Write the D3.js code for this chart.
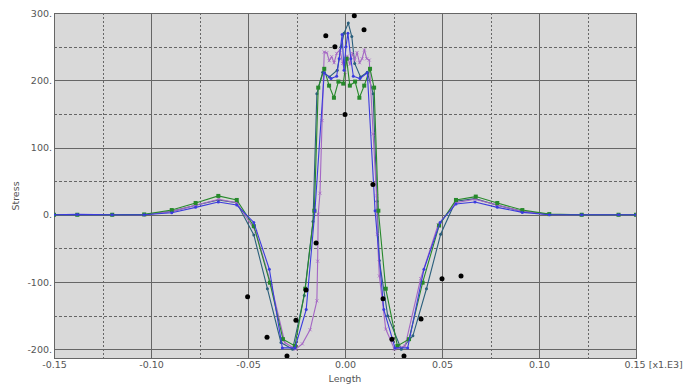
<!DOCTYPE html>
<html>
<head>
<meta charset="utf-8">
<script src="https://cdn.jsdelivr.net/npm/d3@7"></script>
<style>
  body { margin: 0; background: #fff; }
  svg text { font-family: "DejaVu Sans", Verdana, sans-serif; fill: #555; }
</style>
</head>
<body>
<div id="chart"></div>
<script>
// tick labels
const xTicks = [-0.15, -0.10, -0.05, 0, 0.05, 0.10, 0.15];
const xMinor = [-0.125, -0.075, -0.025, 0.025, 0.075, 0.125];
const yTicks = [-200, -100, 0, 100, 200, 300];
const yMinor = [-150, -50, 50, 150, 250];
const xUnit = '[x1.E3]';

// green series (square markers)
const greenX = [-0.15, -0.138, -0.12, -0.1035, -0.0893, -0.077, -0.0653, -0.0558, -0.047, -0.0387, -0.032, -0.0258, -0.0205, -0.0158, -0.0138, -0.0107, -0.0082, -0.0057, -0.0034, -0.0009, 0.0008, 0.0025, 0.0052, 0.0074, 0.0099, 0.0129, 0.015, 0.0172, 0.021, 0.027, 0.033, 0.040, 0.0485, 0.0572, 0.0674, 0.0785, 0.0914, 0.1053, 0.122, 0.141, 0.15];
const greenY = [0, 0, 0, 0.5, 7, 17.5, 28, 22, -17, -101, -185, -195, -110, 6, 189, 217, 192, 174, 198, 195, 232, 192, 198, 174, 192, 217, 189, 6, -110, -195, -185, -101, -16, 22, 27, 17.5, 7, 1, 0, 0, 0];

// blue series
const blueX = [-0.15, -0.138, -0.12, -0.1035, -0.0893, -0.077, -0.0653, -0.0558, -0.047, -0.039, -0.0323, -0.0258, -0.020, -0.0155, -0.0107, -0.0072, -0.0043, -0.003, -0.0015, -0.0005, 0.0005, 0.0015, 0.003, 0.0043, 0.0077, 0.0115, 0.0155, 0.020, 0.0258, 0.0323, 0.0407, 0.049, 0.0572, 0.067, 0.0785, 0.0914, 0.1053, 0.122, 0.141, 0.15];
const blueY = [0, 0.5, 0, 0, 3, 11, 19, 14.5, -11.5, -81, -198, -198, -141, 6, 211, 202.5, 206, 232, 268, 215, 250, 270, 232, 206, 202.5, 211, 6, -141, -198, -198, -81, -11.5, 16, 19, 11, 3.5, 0, 0, 0, 0];

// purple series
const purpleX = [-0.15, -0.138, -0.12, -0.1035, -0.089, -0.077, -0.065, -0.0558, -0.046, -0.038, -0.031, -0.0255, -0.022, -0.018, -0.0145, -0.0141, -0.0138, -0.0129, -0.0118, -0.0107, -0.0094, -0.0081, -0.0069, -0.0056, -0.0043, -0.0026, -0.0012, 0, 0.0012, 0.0025, 0.0038, 0.005, 0.0062, 0.0075, 0.0088, 0.01, 0.0112, 0.0125, 0.0145, 0.0163, 0.0167, 0.0177, 0.021, 0.0255, 0.031, 0.039, 0.048, 0.057, 0.067, 0.078, 0.091, 0.105, 0.122, 0.141, 0.15];
const purpleY = [0, 0, 0, 0, 5, 14, 23, 18, -25, -105, -190, -200, -192, -171, -128, -69, 1, 32, 140, 242, 241, 229, 235, 226, 240, 245, 225, 212, 236, 224, 240, 230, 241, 226, 232, 245, 232, 230, 120, 28, -29, -91, -170, -200, -195, -95, -15, 18, 23, 15, 5, 0.5, 0, 0, 0];

// dark teal series
const tealX = [-0.15, -0.138, -0.12, -0.1035, -0.0893, -0.077, -0.0653, -0.0558, -0.047, -0.040, -0.033, -0.027, -0.021, -0.0165, -0.0145, -0.0115, -0.008, -0.004, -0.002, -0.0005, 0.0017, 0.0035, 0.005, 0.008, 0.0115, 0.0145, 0.0165, 0.0177, 0.022, 0.029, 0.035, 0.042, 0.0493, 0.057, 0.067, 0.0785, 0.0914, 0.1053, 0.122, 0.141, 0.15];
const tealY = [0, 0, 0, 0, 5, 14, 22, 18, -30, -110, -190, -200, -120, -10, 180, 212, 205, 215, 250, 270, 285, 265, 225, 205, 212, 180, 20, -68, -150, -200, -180, -110, -29, 20, 24, 14, 5, 0.5, 0, 0, 0];

// black scatter points
const dotX = [-0.0502, -0.0402, -0.0299, -0.0253, -0.0201, -0.0149, -0.0099, -0.0052, 0, 0.0048, 0.0098, 0.0144, 0.0196, 0.0242, 0.0304, 0.0392, 0.05, 0.0598];
const dotY = [-122, -182, -210, -157, -112, -42, 266, 250, 149, 296, 275, 45, -125, -185, -210, -155, -95, -91];

const W = 695, H = 384;
const plot = { left: 54, right: 636, top: 13, bottom: 358 };

const svg = d3.select('#chart').append('svg')
  .attr('width', W)
  .attr('height', H);

const x = d3.scaleLinear().domain([-0.15, 0.15]).range([plot.left, plot.right]);
const y = d3.scaleLinear().domain([-213, 300]).range([plot.bottom, plot.top]);

// plot background
svg.append('rect')
  .attr('x', plot.left).attr('y', plot.top)
  .attr('width', plot.right - plot.left).attr('height', plot.bottom - plot.top)
  .attr('fill', '#d9d9d9');

svg.append('clipPath').attr('id', 'clip')
  .append('rect')
  .attr('x', plot.left).attr('y', plot.top)
  .attr('width', plot.right - plot.left).attr('height', plot.bottom - plot.top);

// grid
const grid = svg.append('g');
grid.selectAll('.vmin').data(xMinor).enter().append('line')
  .attr('x1', d => Math.round(x(d)) + 0.5).attr('x2', d => Math.round(x(d)) + 0.5)
  .attr('y1', plot.top).attr('y2', plot.bottom)
  .attr('stroke', '#666').attr('stroke-dasharray', '2,2');
grid.selectAll('.hmin').data(yMinor).enter().append('line')
  .attr('y1', d => Math.round(y(d)) + 0.5).attr('y2', d => Math.round(y(d)) + 0.5)
  .attr('x1', plot.left).attr('x2', plot.right)
  .attr('stroke', '#666').attr('stroke-dasharray', '3,2');
grid.selectAll('.vmaj').data(xTicks).enter().append('line')
  .attr('x1', d => Math.round(x(d)) + 0.5).attr('x2', d => Math.round(x(d)) + 0.5)
  .attr('y1', plot.top).attr('y2', plot.bottom)
  .attr('stroke', '#666');
grid.selectAll('.hmaj').data(yTicks).enter().append('line')
  .attr('y1', d => Math.round(y(d)) + 0.5).attr('y2', d => Math.round(y(d)) + 0.5)
  .attr('x1', plot.left).attr('x2', plot.right)
  .attr('stroke', '#666');

svg.append('rect')
  .attr('x', plot.left + 0.5).attr('y', plot.top + 0.5)
  .attr('width', plot.right - plot.left).attr('height', plot.bottom - plot.top)
  .attr('fill', 'none').attr('stroke', '#666');

// axes
const yAxis = svg.append('g')
  .attr('transform', `translate(${plot.left - 1},0)`)
  .call(d3.axisLeft(y).tickValues(yTicks).tickSize(0).tickPadding(1).tickFormat(d => d + '.'));
yAxis.select('.domain').remove();

const xAxis = svg.append('g')
  .attr('transform', `translate(0,${plot.bottom})`)
  .call(d3.axisBottom(x).tickValues(xTicks).tickSize(0).tickPadding(3)
    .tickFormat(d => d === 0.15 ? d.toFixed(2) + ' ' + xUnit : d.toFixed(2)));
xAxis.select('.domain').remove();

svg.selectAll('.tick text')
  .attr('font-family', '"DejaVu Sans", Verdana, sans-serif')
  .attr('font-size', 9.5)
  .attr('fill', '#555');

// the last label carries the unit, so it starts just left of its tick
xAxis.selectAll('.tick text')
  .filter(d => d === 0.15)
  .attr('text-anchor', 'start')
  .attr('dx', -12);

svg.append('text')
  .attr('transform', 'translate(19,196) rotate(-90)')
  .attr('text-anchor', 'middle')
  .attr('font-size', 9.5)
  .text('Stress');

svg.append('text')
  .attr('x', 345).attr('y', 382)
  .attr('text-anchor', 'middle')
  .attr('font-size', 9.5)
  .text('Length');

// series
const line = d3.line().x(d => x(d[0])).y(d => y(d[1]));
const plotArea = svg.append('g').attr('clip-path', 'url(#clip)');

function drawSeries(xs, ys, color, marker) {
  const pts = xs.map((v, i) => [v, ys[i]]);
  plotArea.append('path')
    .datum(pts)
    .attr('d', line)
    .attr('fill', 'none')
    .attr('stroke', color)
    .attr('stroke-width', 1.1);
  const g = plotArea.append('g');
  if (marker === 'square') {
    g.selectAll('rect').data(pts).enter().append('rect')
      .attr('x', d => x(d[0]) - 2).attr('y', d => y(d[1]) - 2)
      .attr('width', 4).attr('height', 4)
      .attr('fill', color);
  } else if (marker === 'cross') {
    g.selectAll('path').data(pts).enter().append('path')
      .attr('d', d => {
        const cx = x(d[0]), cy = y(d[1]);
        return `M${cx - 1.5},${cy - 1.5}L${cx + 1.5},${cy + 1.5}M${cx - 1.5},${cy + 1.5}L${cx + 1.5},${cy - 1.5}`;
      })
      .attr('stroke', color).attr('stroke-width', 0.8);
  } else {
    g.selectAll('circle').data(pts).enter().append('circle')
      .attr('cx', d => x(d[0])).attr('cy', d => y(d[1]))
      .attr('r', 1.5)
      .attr('fill', color);
  }
}

drawSeries(tealX, tealY, '#2a5f7c', 'dot');
drawSeries(purpleX, purpleY, '#a466c4', 'cross');
drawSeries(greenX, greenY, '#27892b', 'square');
drawSeries(blueX, blueY, '#3b3bde', 'dot');

plotArea.append('g').selectAll('circle')
  .data(dotX.map((v, i) => [v, dotY[i]]))
  .enter().append('circle')
  .attr('cx', d => x(d[0])).attr('cy', d => y(d[1]))
  .attr('r', 2.5)
  .attr('fill', '#000');
</script>
</body>
</html>
